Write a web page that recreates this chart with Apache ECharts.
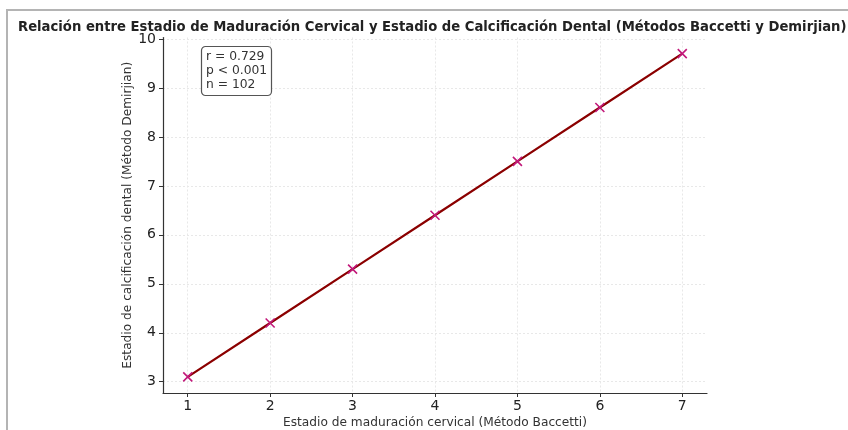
<!DOCTYPE html>
<html>
<head>
<meta charset="utf-8">
<script src="https://cdn.jsdelivr.net/npm/echarts@6/dist/echarts.min.js"></script>
<style>
  html, body { margin: 0; padding: 0; background: #fff; }
  #main { width: 848px; height: 430px; }
</style>
</head>
<body>
<div id="main"></div>
<script>
// datos
const stages = [1, 2, 3, 4, 5, 6, 7];
const calcification = [3.1, 4.2, 5.3, 6.4, 7.5, 8.6, 9.7];
const xTicks = [1, 2, 3, 4, 5, 6, 7];
const yTicks = [3, 4, 5, 6, 7, 8, 9, 10];
const statLines = ['r = 0.729', 'p < 0.001', 'n = 102'];

const font = 'DejaVu Sans';
const chart = echarts.init(document.getElementById('main'));

const points = stages.map((s, i) => [s, calcification[i]]);

const option = {
  backgroundColor: '#fff',
  animation: false,
  title: [{
    text: 'Relación entre Estadio de Maduración Cervical y Estadio de Calcificación Dental (Métodos Baccetti y Demirjian)',
    left: 13,
    top: 16,
    textStyle: { fontFamily: font, fontSize: 13.2, fontWeight: 'bold', color: '#222' }
  }, {
    text: statLines.join('\n'),
    left: 201,
    top: 46,
    padding: [4, 5, 4, 5],
    borderColor: '#555',
    borderWidth: 1.2,
    borderRadius: 4,
    backgroundColor: '#fff',
    textStyle: { fontFamily: font, fontSize: 12.3, fontWeight: 'normal', color: '#333', lineHeight: 14 }
  }],
  grid: { left: 163, right: 141, top: 37.5, bottom: 37, outerBoundsMode: 'none', containLabel: false },
  xAxis: {
    type: 'value',
    min: 0.7,
    max: 7.3,
    name: 'Estadio de maduración cervical (Método Baccetti)',
    nameLocation: 'middle',
    nameGap: 24,
    nameMoveOverlap: false,
    nameTextStyle: { fontFamily: font, fontSize: 12.2, color: '#333' },
    axisLine: { lineStyle: { color: '#333', width: 1.2 } },
    axisTick: { show: true, length: 4, customValues: xTicks, lineStyle: { color: '#333' } },
    axisLabel: { customValues: xTicks, fontFamily: font, fontSize: 14, color: '#222', margin: 6 },
    splitLine: { show: true, lineStyle: { color: '#e8e8e8', type: [2, 2] } }
  },
  yAxis: {
    type: 'value',
    min: 2.77,
    max: 10.03,
    name: 'Estadio de calcificación dental (Método Demirjian)',
    nameLocation: 'middle',
    nameGap: 29,
    nameMoveOverlap: false,
    nameTextStyle: { fontFamily: font, fontSize: 12.2, color: '#333' },
    axisLine: { show: true, lineStyle: { color: '#333', width: 1.2 } },
    axisTick: { show: true, length: 4, customValues: yTicks, lineStyle: { color: '#333' } },
    axisLabel: { customValues: yTicks, fontFamily: font, fontSize: 14, color: '#222', margin: 7 },
    splitLine: { show: true, lineStyle: { color: '#e8e8e8', type: [2, 2] } }
  },
  graphic: [{
    type: 'line',
    shape: { x1: 7, y1: 9, x2: 7, y2: 430 },
    style: { stroke: '#b4b4b4', lineWidth: 2 },
    silent: true
  }, {
    type: 'line',
    shape: { x1: 6, y1: 10, x2: 860, y2: 10 },
    style: { stroke: '#b4b4b4', lineWidth: 2 },
    silent: true
  }],
  series: [{
    type: 'line',
    data: points,
    symbol: 'path://M0,0L10,10M10,0L0,10',
    symbolSize: 9,
    showAllSymbol: true,
    lineStyle: { color: '#8b0000', width: 2.2 },
    itemStyle: { color: 'rgba(0,0,0,0)', borderColor: '#c2187a', borderWidth: 1.6 },
    z: 3
  }]
};

chart.setOption(option);
</script>
</body>
</html>
